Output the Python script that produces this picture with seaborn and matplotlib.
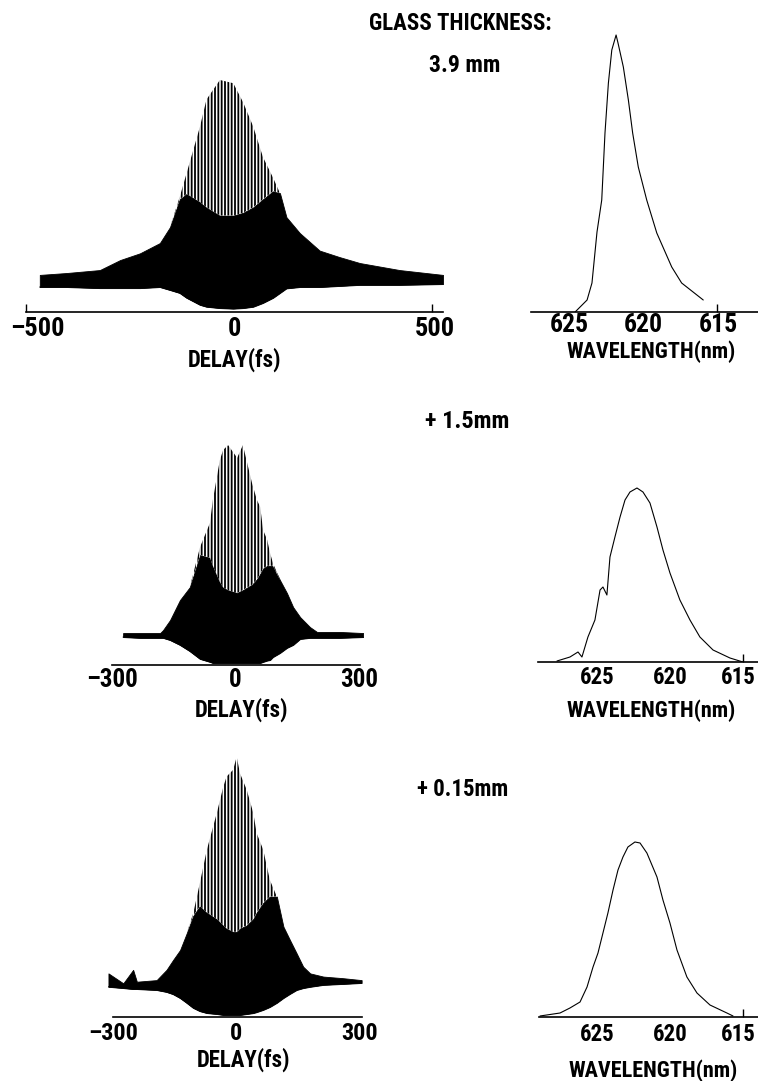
import numpy as np
import pandas as pd
import matplotlib
matplotlib.use("Agg")
import matplotlib.pyplot as plt
from matplotlib.ticker import FixedLocator, FixedFormatter
import seaborn as sns

# ---------------- data ----------------
# Interferometric autocorrelations: delay (fs) and envelopes (background = 1)
# upper = fringe tips, solid = top of the fully black mass, lower = lower envelope
delay_a = [-466, -400, -318, -268, -219, -170, -145, -121, -104, -71, -55, -22, 11,
           35, 60, 84, 109, 126, 142, 175, 224, 273, 323, 421, 528]
upper_a = [1.30, 1.37, 1.48, 1.85, 2.10, 2.48, 3.07, 4.19, 5.07, 6.80, 7.80, 8.52, 8.40,
           7.70, 6.80, 5.67, 4.90, 4.33, 3.44, 2.85, 2.20, 1.96, 1.74, 1.48, 1.30]
solid_a = [1.30, 1.37, 1.48, 1.85, 2.10, 2.48, 3.07, 4.10, 4.30, 4.00, 3.80, 3.50, 3.50,
           3.60, 3.80, 4.10, 4.40, 4.33, 3.44, 2.85, 2.20, 1.96, 1.74, 1.48, 1.30]
lower_a = [0.85, 0.85, 0.81, 0.81, 0.81, 0.85, 0.74, 0.63, 0.45, 0.19, 0.12, 0.07, 0.05,
           0.07, 0.12, 0.26, 0.45, 0.63, 0.80, 0.85, 0.85, 0.89, 0.93, 0.93, 0.96]

delay_b = [-273, -232, -183, -176, -159, -135, -111, -86, -62, -55, -38, -30, -18, 4,
           18, 40, 52, 60, 67, 77, 84, 91, 108, 125, 140, 157, 181, 198, 254, 310]
upper_b = [1.11, 1.11, 1.11, 1.22, 1.59, 2.33, 2.81, 4.30, 5.19, 6.04, 7.52, 7.89, 8.07, 7.60,
           8.07, 6.67, 6.04, 5.78, 4.93, 4.56, 4.07, 3.70, 3.07, 2.59, 2.07, 1.70, 1.33, 1.15, 1.15, 1.11]
solid_b = [1.11, 1.11, 1.11, 1.22, 1.59, 2.33, 2.81, 4.00, 3.90, 3.60, 3.00, 2.80, 2.70, 2.60,
           2.70, 2.90, 3.10, 3.30, 3.50, 3.60, 3.60, 3.60, 3.07, 2.59, 2.07, 1.70, 1.33, 1.15, 1.15, 1.11]
lower_b = [0.96, 0.93, 0.93, 0.93, 0.85, 0.67, 0.44, 0.15, 0.04, 0.00, 0.00, 0.00, 0.00, 0.00,
           0.00, 0.00, 0.00, 0.00, 0.04, 0.09, 0.11, 0.22, 0.37, 0.56, 0.67, 0.89, 0.93, 0.93, 0.93, 0.96]

delay_c = [-311, -275, -251, -242, -194, -170, -154, -137, -121, -105, -89, -72, -48, -32,
           -24, -8, 0.5, 8.5, 25, 41, 49, 65, 81, 98, 114, 130, 146, 162, 179, 211, 259, 304]
upper_c = [1.30, 0.99, 1.41, 1.04, 1.09, 1.41, 1.72, 2.03, 2.55, 3.18, 4.12, 5.16, 6.30, 7.13,
           7.45, 7.66, 8.07, 7.55, 7.03, 6.30, 5.68, 5.16, 4.22, 3.70, 2.76, 2.34, 1.93, 1.51, 1.30, 1.20, 1.15, 1.09]
solid_c = [1.30, 0.99, 1.41, 1.04, 1.09, 1.41, 1.72, 2.03, 2.55, 3.10, 3.40, 3.20, 3.00, 2.80,
           2.70, 2.60, 2.60, 2.70, 2.80, 3.00, 3.20, 3.50, 3.70, 3.70, 2.76, 2.34, 1.93, 1.51, 1.30, 1.20, 1.15, 1.09]
lower_c = [0.88, 0.84, 0.81, 0.81, 0.78, 0.72, 0.65, 0.53, 0.38, 0.22, 0.12, 0.06, 0.03, 0.00,
           0.00, 0.00, 0.00, 0.00, 0.03, 0.06, 0.09, 0.16, 0.25, 0.38, 0.53, 0.66, 0.78, 0.84, 0.88, 0.94, 0.97, 1.00]

# Spectra: wavelength (nm) and intensity (arb. units)
wl_a = [624.59, 623.78, 623.45, 623.11, 622.79, 622.57, 622.34, 622.11, 621.82, 621.69,
        621.33, 620.99, 620.70, 620.32, 619.75, 619.07, 618.06, 617.39, 615.93]
sp_a = [0, 12, 29, 80, 112, 179, 229, 262, 277, 269, 245, 212, 179, 145, 112, 79, 45, 29, 12]

wl_b = [627.74, 626.85, 626.30, 626.03, 625.62, 625.14, 624.79, 624.59, 624.32, 624.11, 623.77,
        623.42, 623.08, 622.74, 622.26, 621.85, 621.37, 620.89, 620.48, 620.00, 619.32, 618.63,
        617.95, 617.05, 615.89, 615.00]
sp_b = [1, 5, 10, 5, 25, 42, 72, 75, 67, 105, 125, 145, 162, 170, 174, 170, 159, 135, 112, 89,
        62, 42, 25, 12, 4, 0]

wl_c = [628.90, 627.53, 626.85, 626.16, 625.68, 625.27, 624.93, 624.59, 624.25, 623.90, 623.56,
        623.22, 622.88, 622.40, 622.05, 621.58, 620.89, 620.48, 620.00, 619.52, 618.84, 618.15,
        617.26, 616.10, 615.68]
sp_c = [1, 4, 9, 15, 30, 50, 64, 84, 104, 127, 147, 160, 170, 175, 174, 164, 140, 117, 94, 67,
        40, 24, 12, 4, 1]

delay_ticks_a = [-500, 500]
delay_labels_a = ["\u2013500", "0", "500"]
delay_label_pos_a = [-473, 15, 508]          # where the printed labels sit
delay_ticks_bc = [-300, 300]
delay_labels_bc = ["\u2013300", "0", "300"]
delay_label_pos_bc = [-300, 0, 300]
wl_ticks = [625, 620, 615]
wl_labels = ["625", "620", "615"]
wl_label_pos_a = [625, 620, 614.9]
wl_label_pos_bc = [625, 620, 615.3]
headings = ["GLASS THICKNESS:", "3.9 mm", "+ 1.5mm", "+ 0.15mm"]

# ---------------- figure ----------------
sns.set_style("white")
plt.rcParams["font.family"] = ["Roboto Condensed", "Liberation Sans Narrow",
                               "DejaVu Sans Condensed", "DejaVu Sans"]
plt.rcParams["font.stretch"] = "condensed"
plt.rcParams["font.weight"] = "bold"
plt.rcParams["hatch.linewidth"] = 1.3
plt.rcParams["text.color"] = "black"
plt.rcParams["xtick.color"] = "black"
plt.rcParams["xtick.labelcolor"] = "black"

W, H = 758, 1081
fig = plt.figure(figsize=(W / 100, H / 100), dpi=100)
fig.patch.set_facecolor("white")


def add_ax(x0, x1, y0, y1):
    return fig.add_axes([x0 / W, 1 - y1 / H, (x1 - x0) / W, (y1 - y0) / H])


def style(ax):
    for s in ("left", "top", "right"):
        ax.spines[s].set_visible(False)
    ax.spines["bottom"].set_linewidth(1.2)
    ax.spines["bottom"].set_color("black")
    ax.set_yticks([])
    ax.set_facecolor("none")
    ax.set_xlabel("")
    ax.set_ylabel("")


def set_ticks(ax, ticks, lpos, labels, fs, pad):
    ax.xaxis.set_major_locator(FixedLocator(lpos))
    ax.xaxis.set_major_formatter(FixedFormatter(labels))
    ax.xaxis.set_minor_locator(FixedLocator(ticks))
    ax.tick_params(axis="x", which="major", length=0, labelsize=fs, pad=pad, bottom=True,
                   labelcolor="black")
    ax.tick_params(axis="x", which="minor", length=6, width=1, direction="in",
                   bottom=True, color="black")
    for t in ax.get_xticklabels():
        t.set_fontweight("bold")


def autocorr(ax, d, up, so, lo, xlim, ylim, ticks, lpos, labels, bounds, fs, pad):
    ax.fill_between(d, lo, so, facecolor="black", edgecolor="black", linewidth=0.6)
    ax.fill_between(d, so, up, facecolor="white", edgecolor="black", hatch="|||||", linewidth=0)
    sns.lineplot(x=d, y=lo, ax=ax, color="black", linewidth=0.8, sort=False)
    ax.set_xlim(*xlim)
    ax.set_ylim(*ylim)
    style(ax)
    ax.spines["bottom"].set_bounds(*bounds)
    set_ticks(ax, ticks, lpos, labels, fs, pad)


def spectrum(ax, wl, sp, xlim, ylim, lpos, fs, pad):
    sns.lineplot(x=wl, y=sp, ax=ax, color="black", linewidth=0.8, sort=False)
    ax.set_xlim(*xlim)
    ax.set_ylim(*ylim)
    style(ax)
    set_ticks(ax, wl_ticks, lpos, wl_labels, fs, pad)


# autocorrelation panels
ax1 = add_ax(26, 443, 60, 312)
autocorr(ax1, delay_a, upper_a, solid_a, lower_a, (-500, 528), (-0.074, 9.26),
         delay_ticks_a, delay_label_pos_a, delay_labels_a, (-500, 528), 19, 3.5)
ax3 = add_ax(112, 363, 420, 665)
autocorr(ax3, delay_b, upper_b, solid_b, lower_b, (-300, 309.7), (-0.074, 9.0),
         delay_ticks_bc, delay_label_pos_bc, delay_labels_bc, (-300, 303), 18, 2.5)
ax5 = add_ax(108, 362, 740, 1017)
autocorr(ax5, delay_c, upper_c, solid_c, lower_c, (-312.1, 304.9), (-0.0625, 8.59),
         delay_ticks_bc, delay_label_pos_bc, delay_labels_bc, (-300, 305), 17.5, 3.5)

# spectra panels
ax2 = add_ax(531, 758, 20, 312)
spectrum(ax2, wl_a, sp_a, (627.57, 612.23), (0, 292), wl_label_pos_a, 18.5, 0.5)
ax4 = add_ax(538, 758, 440, 662)
spectrum(ax4, wl_b, sp_b, (629.04, 613.97), (0, 222), wl_label_pos_bc, 16.5, 3)
ax6 = add_ax(539, 758, 800, 1017)
spectrum(ax6, wl_c, sp_c, (628.97, 613.97), (0, 217), wl_label_pos_bc, 16.5, 4)


def ftext(x, y, s, size):
    fig.text(x / W, 1 - y / H, s, ha="center", va="center", fontsize=size,
             fontweight="bold", color="black")


ftext(460, 23, headings[0], 16.5)
ftext(465, 66, headings[1], 17)
ftext(467, 422, headings[2], 17.5)
ftext(463, 790, headings[3], 16.5)

ftext(234, 360, "DELAY(fs)", 16.5)
ftext(242, 710, "DELAY(fs)", 16.5)
ftext(244, 1060, "DELAY(fs)", 16.5)
ftext(651, 352, "WAVELENGTH(nm)", 16)
ftext(651, 711, "WAVELENGTH(nm)", 16)
ftext(653, 1071, "WAVELENGTH(nm)", 16)

fig.savefig("out.png", dpi=100, facecolor="white")
